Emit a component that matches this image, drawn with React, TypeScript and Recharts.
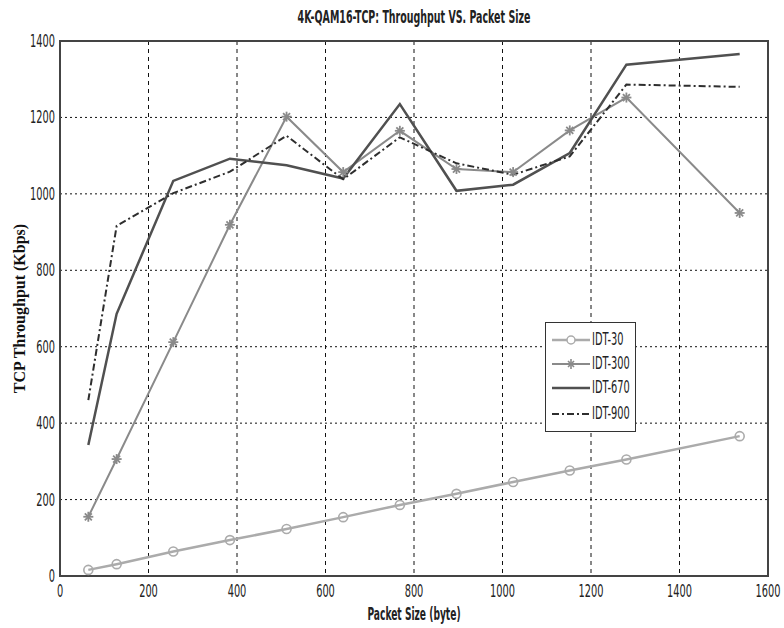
import React from 'react';
import { LineChart, Line, XAxis, YAxis, CartesianGrid, Legend, ReferenceArea, Label } from 'recharts';

const packetSizes = [64, 128, 256, 384, 512, 640, 768, 896, 1024, 1152, 1280, 1536];
const idt30 = [16, 31, 64, 94, 123, 154, 186, 215, 246, 276, 305, 366];
const idt300 = [155, 306, 612, 919, 1202, 1057, 1165, 1065, 1057, 1166, 1252, 950];
const idt670 = [343, 686, 1034, 1092, 1075, 1040, 1235, 1008, 1024, 1107, 1338, 1366];
const idt900 = [460, 916, 1002, 1058, 1152, 1038, 1148, 1080, 1050, 1098, 1286, 1280];
const xTicks = [0, 200, 400, 600, 800, 1000, 1200, 1400, 1600];
const yTicks = [0, 200, 400, 600, 800, 1000, 1200, 1400];
const seriesNames = ['IDT-30', 'IDT-300', 'IDT-670', 'IDT-900'];
const chartTitle = '4K-QAM16-TCP: Throughput VS. Packet Size';
const xTitle = 'Packet Size (byte)';
const yTitle = 'TCP Throughput (Kbps)';

const data = packetSizes.map((p, i) => ({
  size: p,
  a: idt30[i],
  b: idt300[i],
  c: idt670[i],
  d: idt900[i],
}));

const NARROW = '"Liberation Sans Narrow", "DejaVu Sans Condensed", "Liberation Sans", sans-serif';
const SY = 1.3;
const SX = 0.84;

const C30 = '#ababab';
const C300 = '#8a8a8a';
const C670 = '#505050';
const C900 = '#2e2e2e';

const XTick = (props: any) => {
  const { x, y, payload } = props;
  return (
    <text x={0} y={0} transform={`translate(${x},${y + 21}) scale(${SX},${SY})`} textAnchor="middle" fontSize={13} fontFamily={NARROW} fill="#222">
      {payload.value}
    </text>
  );
};

const YTick = (props: any) => {
  const { x, y, payload } = props;
  return (
    <text x={0} y={0} transform={`translate(${x},${y + 6}) scale(${SX},${SY})`} textAnchor="end" fontSize={13} fontFamily={NARROW} fill="#222">
      {payload.value}
    </text>
  );
};

const CircleDot = (props: any) => {
  const { cx, cy, index } = props;
  if (cx == null || cy == null) return <g key={`c${index}`} />;
  return <circle key={`c${index}`} cx={cx} cy={cy} r={4.5} fill="none" stroke={C30} strokeWidth={1.6} />;
};

const StarDot = (props: any) => {
  const { cx, cy, index } = props;
  if (cx == null || cy == null) return <g key={`s${index}`} />;
  const r = 5;
  const d = r * 0.7;
  return (
    <g key={`s${index}`} stroke={C300} strokeWidth={1.8}>
      <line x1={cx} y1={cy - r} x2={cx} y2={cy + r} />
      <line x1={cx - r} y1={cy} x2={cx + r} y2={cy} />
      <line x1={cx - d} y1={cy - d} x2={cx + d} y2={cy + d} />
      <line x1={cx - d} y1={cy + d} x2={cx + d} y2={cy - d} />
    </g>
  );
};

const LegendBox = () => {
  const rows = [
    { name: seriesNames[0], color: C30, width: 2.5, dash: undefined as string | undefined, marker: 'circle' },
    { name: seriesNames[1], color: C300, width: 2, dash: undefined, marker: 'star' },
    { name: seriesNames[2], color: C670, width: 2.5, dash: undefined, marker: 'none' },
    { name: seriesNames[3], color: C900, width: 2, dash: '7 3 2 3', marker: 'none' },
  ];
  const tops = [17, 41, 65, 91];
  return (
    <div style={{ position: 'relative', width: 91, height: 110, border: '1.5px solid #333', background: '#fff', boxSizing: 'border-box' }}>
      {rows.map((r, i) => (
        <div key={r.name} style={{ position: 'absolute', left: 0, top: tops[i] - 10, height: 20, width: 89 }}>
          <svg width={44} height={20} style={{ position: 'absolute', left: 4, top: 0 }}>
            <line x1={2} y1={10} x2={40} y2={10} stroke={r.color} strokeWidth={r.width} strokeDasharray={r.dash} />
            {r.marker === 'circle' && <circle cx={21} cy={10} r={4} fill="#fff" stroke={r.color} strokeWidth={1.5} />}
            {r.marker === 'star' && (
              <g stroke={r.color} strokeWidth={1.6}>
                <line x1={21} y1={5} x2={21} y2={15} />
                <line x1={18} y1={7} x2={24} y2={13} />
                <line x1={18} y1={13} x2={24} y2={7} />
              </g>
            )}
          </svg>
          <div style={{ position: 'absolute', left: 46, top: 1, fontFamily: NARROW, fontSize: 13, color: '#222', transform: `scale(${SX},${SY})`, transformOrigin: 'left center', lineHeight: '18px', whiteSpace: 'nowrap' }}>
            {r.name}
          </div>
        </div>
      ))}
    </div>
  );
};

export default function App() {
  return (
    <div style={{ position: 'absolute', left: 0, top: 0, width: 784, height: 628, background: '#fff' }}>
      <div style={{ position: 'absolute', left: 60, width: 708, top: 9, textAlign: 'center', fontFamily: NARROW, fontWeight: 'bold', fontSize: 13, color: '#222', transform: `scale(0.81,${SY})`, lineHeight: '18px', whiteSpace: 'nowrap' }}>
        {chartTitle}
      </div>
      <LineChart width={784} height={628} data={data} margin={{ top: 41, right: 16, left: 0, bottom: 22 }}>
        <CartesianGrid horizontal={true} vertical={false} stroke="#111" strokeDasharray="2 3" strokeWidth={1} horizontalValues={yTicks} />
        <CartesianGrid horizontal={false} vertical={true} stroke="#111" strokeDasharray="4 4" strokeWidth={1} verticalValues={xTicks} />
        <ReferenceArea x1={0} x2={1600} y1={0} y2={1400} fill="none" stroke="#444" strokeWidth={2} ifOverflow="visible" />
        <XAxis
          dataKey="size"
          type="number"
          domain={[0, 1600]}
          ticks={xTicks}
          height={30}
          tickSize={0}
          tickMargin={0}
          axisLine={false}
          tickLine={false}
          tick={<XTick />}
          interval={0}
        >
          <Label
            content={(props: any) => {
              const vb = props.viewBox;
              return (
                <text x={0} y={0} transform={`translate(${vb.x + vb.width / 2},${vb.y + 44}) scale(0.78,${SY})`} textAnchor="middle" fontSize={13} fontWeight="bold" fontFamily={NARROW} fill="#222">
                  {xTitle}
                </text>
              );
            }}
          />
        </XAxis>
        <YAxis
          type="number"
          domain={[0, 1400]}
          ticks={yTicks}
          width={60}
          tickSize={0}
          tickMargin={5}
          axisLine={false}
          tickLine={false}
          tick={<YTick />}
          interval={0}
        >
          <Label
            content={(props: any) => {
              const vb = props.viewBox;
              const cy = vb.y + vb.height / 2;
              return (
                <text x={0} y={0} transform={`translate(25,${cy}) rotate(-90)`} textAnchor="middle" fontSize={16} fontWeight="bold" fontFamily='"Liberation Serif", "DejaVu Serif", serif' fill="#111">
                  {yTitle}
                </text>
              );
            }}
          />
        </YAxis>
        <Legend layout="vertical" align="center" verticalAlign="middle" content={() => <LegendBox />} wrapperStyle={{ position: 'absolute', left: 545, top: 322, width: 91, height: 110 }} />
        <Line type="linear" dataKey="a" name={seriesNames[0]} stroke={C30} strokeWidth={2.5} dot={<CircleDot />} isAnimationActive={false} />
        <Line type="linear" dataKey="b" name={seriesNames[1]} stroke={C300} strokeWidth={2} dot={<StarDot />} isAnimationActive={false} />
        <Line type="linear" dataKey="c" name={seriesNames[2]} stroke={C670} strokeWidth={2.5} dot={false} isAnimationActive={false} />
        <Line type="linear" dataKey="d" name={seriesNames[3]} stroke={C900} strokeWidth={2} strokeDasharray="7 3 2 3" dot={false} isAnimationActive={false} />
      </LineChart>
    </div>
  );
}
